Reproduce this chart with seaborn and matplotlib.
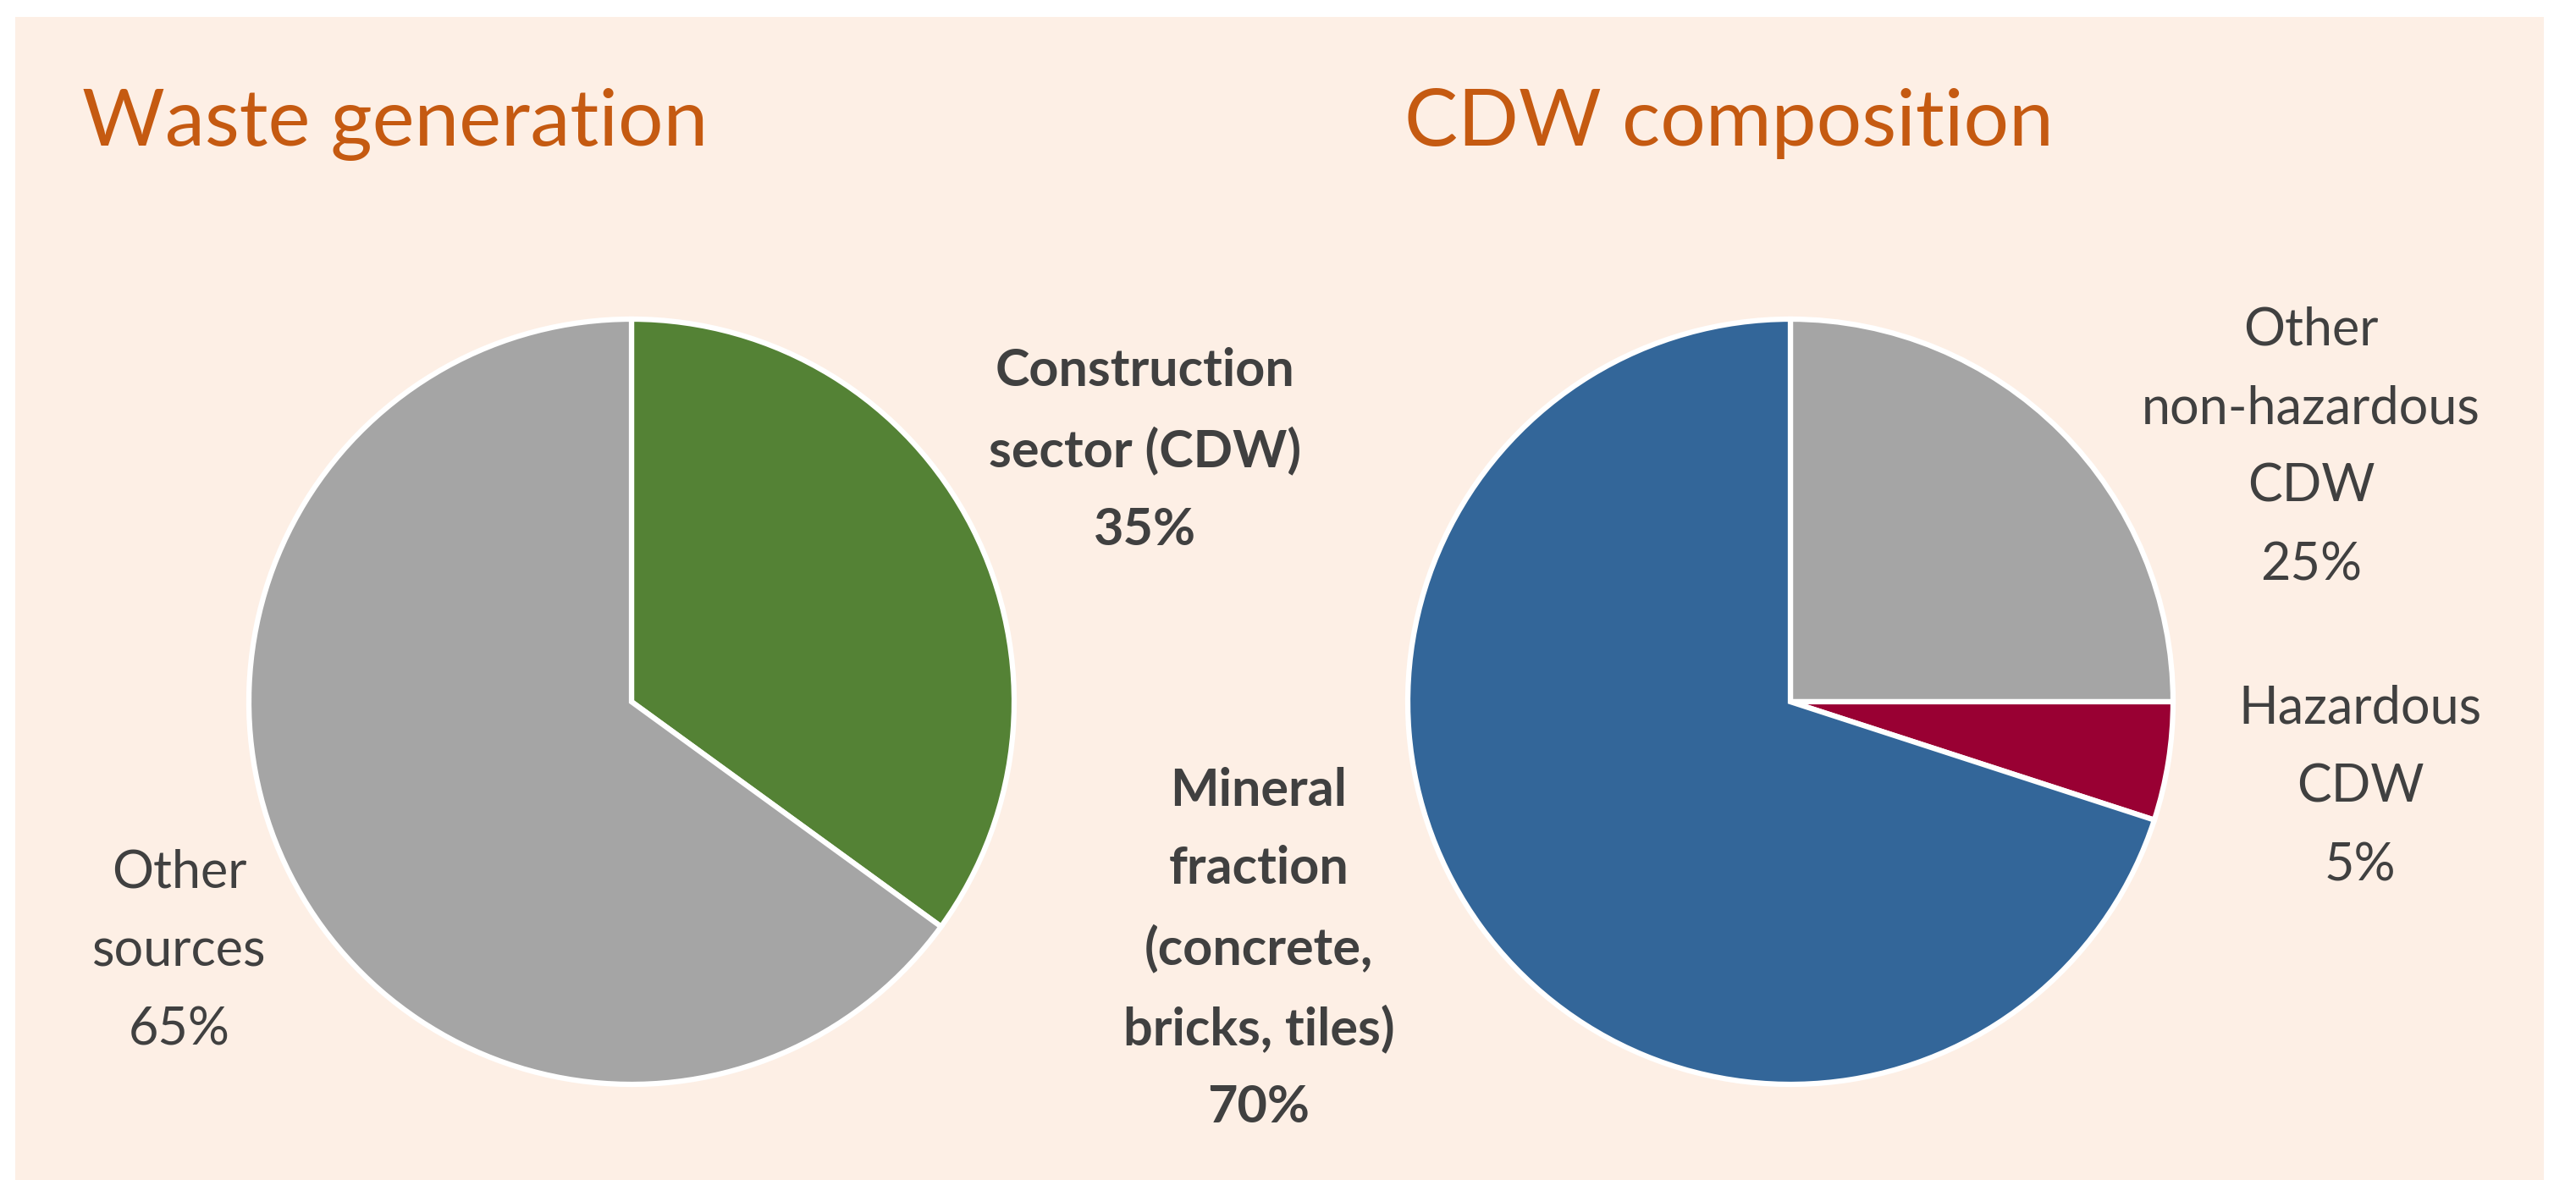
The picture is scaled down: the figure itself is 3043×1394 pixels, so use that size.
import matplotlib
matplotlib.use("Agg")
import matplotlib.pyplot as plt
import seaborn as sns
from matplotlib.patches import Rectangle

# data
waste_labels = ["Construction\nsector (CDW)\n35%", "Other\nsources\n65%"]
waste_values = [35, 65]
waste_colors = ["#548235", "#A5A5A5"]

cdw_labels = ["Other\nnon-hazardous\nCDW\n25%", "Hazardous\nCDW\n5%",
              "Mineral\nfraction\n(concrete,\nbricks, tiles)\n70%"]
cdw_values = [25, 5, 70]
cdw_colors = ["#A5A5A5", "#990033", "#336699"]

titles = ["Waste generation", "CDW composition"]

sns.set_style("white")
plt.rcParams["font.family"] = ["Lato", "DejaVu Sans"]

W, H = 3043, 1394
fig = plt.figure(figsize=(W / 100, H / 100), dpi=100)
fig.patch.set_facecolor("white")

# peach panel behind everything
fig.patches.append(Rectangle((18 / W, 0), (3005 - 18) / W, 1 - 20 / H,
                             transform=fig.transFigure, facecolor="#FDEFE5",
                             edgecolor="none", zorder=-5))


def px(x, y):
    return x / W, 1 - y / H


def pie_axes(cx, cy, r):
    ax = fig.add_axes([(cx - r) / W, 1 - (cy + r) / H, 2 * r / W, 2 * r / H])
    ax.axis("off")
    ax.patch.set_alpha(0)
    ax.set_zorder(2)
    return ax


def fix_limits(ax):
    # pie() sets its own limits, so set them again afterwards
    ax.set_xlim(-1.02, 1.02)
    ax.set_ylim(-1.02, 1.02)
    ax.set_aspect("equal")


R = 452
ax1 = pie_axes(746, 829, R * 1.02)
ax1.pie(waste_values, colors=waste_colors, startangle=90, counterclock=False,
        wedgeprops=dict(edgecolor="white", linewidth=4.5))
fix_limits(ax1)

ax2 = pie_axes(2115, 829, R * 1.02)
ax2.pie(cdw_values, colors=cdw_colors, startangle=90, counterclock=False,
        wedgeprops=dict(edgecolor="white", linewidth=4.5))
fix_limits(ax2)

# titles
title_color = "#C55A11"
for t, x in zip(titles, [97, 1659]):
    fig.text(*px(x, 172), t, color=title_color, fontsize=68,
             ha="left", va="baseline", zorder=3)

# slice labels
text_color = "#404040"
label_pos = [
    (waste_labels[0], 1353, 532, "bold"),
    (waste_labels[1], 212, 1124, "normal"),
    (cdw_labels[0], 2730, 529, "normal"),
    (cdw_labels[1], 2788, 930, "normal"),
    (cdw_labels[2], 1487, 1121, "bold"),
]
for txt, x, y, wt in label_pos:
    fig.text(*px(x, y), txt, color=text_color, fontsize=44, fontweight=wt,
             ha="center", va="center", multialignment="center",
             linespacing=1.78, zorder=3)

fig.savefig("out.png", dpi=100, facecolor=fig.get_facecolor())
